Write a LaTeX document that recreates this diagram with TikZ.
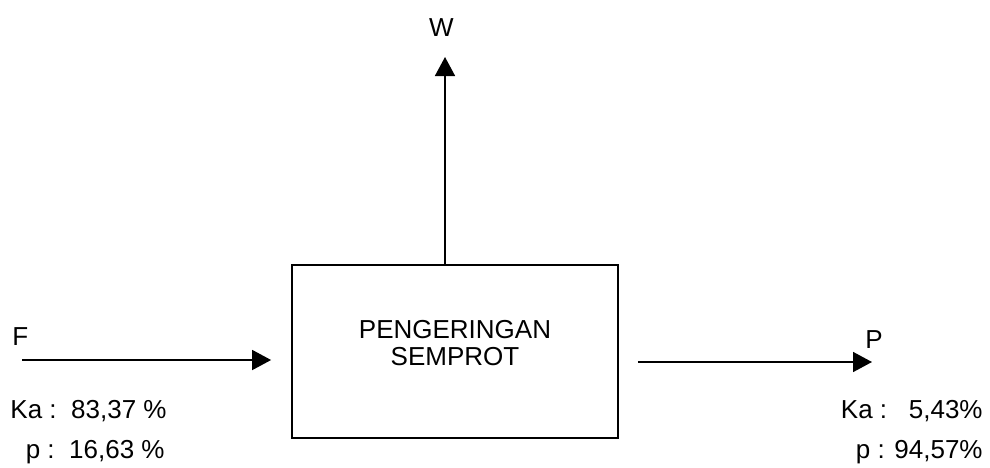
\documentclass[tikz,border=0pt]{standalone}
\usepackage{fontspec}
\setmainfont{Liberation Sans}
\usetikzlibrary{arrows.meta,positioning,calc}
\tikzset{
  unit/.style       = {draw, line width=0.9pt, minimum width=163pt, minimum height=86.5pt, inner sep=0pt},
  flow/.style       = {-{Triangle[length=9.5pt, width=10pt]}, line width=0.8pt},
  every node/.style = {font=\fontsize{13}{13.5}\selectfont},
  lbl/.style        = {inner sep=0pt},
}
\begin{document}
\begin{tikzpicture}[x=0.5pt, y=-0.5pt]
  \useasboundingbox (0,0) rectangle (990,467);
  % spray dryer
  \node[unit] (dryer) at (455,351.5) {};
  \node[lbl, align=center, anchor=base] (dryerlbl) at (455,365) {PENGERINGAN\\SEMPROT};
  % stream end points
  \coordinate (feedin) at (22,360);
  \coordinate (prodout) at (872,362);
  \coordinate (vapout) at (445,57);
  \draw[flow, shorten >=10pt] (feedin) -- (feedin -| dryer.west);
  \draw[flow, shorten <=9.5pt] (dryer.east |- prodout) -- (prodout);
  \draw[flow] (vapout |- dryer.north) -- (vapout);
  % stream labels
  \node[lbl, anchor=base] (wlbl) at (441.5,36) {W};
  \node[lbl, anchor=base west] (flbl) at (12,345) {F};
  \node[lbl, anchor=base west] (plbl) at (865,348) {P};
  \node[lbl, anchor=base east] (feedka) at (167,418) {Ka :\ \ 83,37 \%};
  \node[lbl, anchor=base east] (feedp) at (165,458) {p :\ \ 16,63 \%};
  \node[lbl, anchor=base east] (prodka) at (983,418) {Ka :\ \ \ 5,43\%};
  \node[lbl, anchor=base east] (prodp) at (983,458) {p : 94,57\%};
\end{tikzpicture}
\end{document}
